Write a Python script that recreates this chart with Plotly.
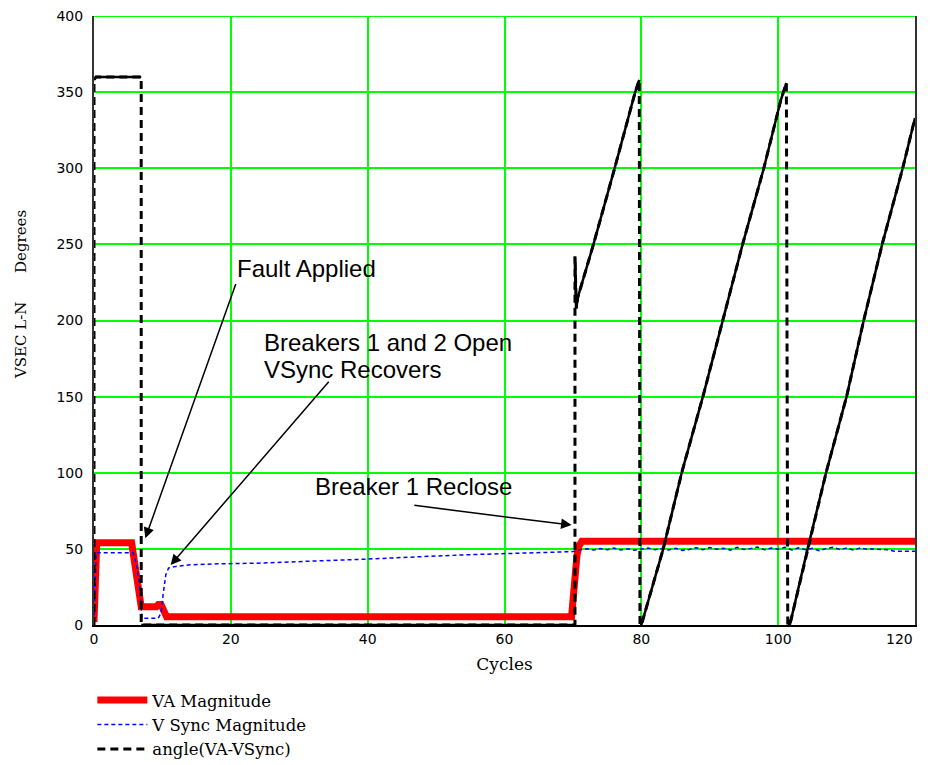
import plotly.graph_objects as go

# ---- data ----
va_x = [0, 0.2, 0.4, 5.5, 5.8, 6.2, 6.5, 6.9, 9.1, 9.4, 9.8, 10.2, 10.6,
        69.8, 70.0, 70.3, 70.6, 70.9, 71.3, 120]
va_y = [2, 30, 54, 54, 45, 28, 20, 12, 12, 13.5, 13.5, 8, 5.5,
        5.5, 18, 32, 46, 52, 55, 55]

vs_x = [0, 0.3, 5.7, 6.2, 6.7, 7.0, 9.4, 9.8, 10.1, 10.5, 10.9, 12, 14, 18, 24,
        30, 35, 40, 45, 50, 55, 60, 65, 68, 70] + list(range(71, 121))
vs_y = [2, 47.5, 47.5, 40, 25, 4.5, 4.5, 8, 20, 33, 37.5, 38.5, 39.5, 40.2, 40.6,
        41.8, 42.5, 43.3, 44.5, 45.3, 46.2, 46.8, 47.4, 47.7, 48.2,
        49.5, 50, 49.2, 50.3, 49.4, 50.5, 49.3, 50, 49.1, 49.8,
        50.6, 49.4, 50.2, 49.3, 50.4, 49, 49.6, 50.8, 49.5, 50.9,
        49.7, 50.4, 49.2, 51, 49.6, 50.3, 51.2, 49.4, 50.5, 49.8,
        51, 49.3, 50.7, 49.5, 50.4, 48.8, 50.2, 51, 49.6, 50.5,
        49.3, 50.6, 49.8, 49.9, 49.6, 49.4, 48.5, 48.6, 48.4, 48.5]

ang_x = [0, 0, 0.3, 6.9, 6.9, 70.3, 70.3, 70.5, 70.7, 73.0, 76.1, 79.1, 79.7, 79.8,
         80.0, 83.2, 85.9, 89.0, 91.9, 94.8, 97.9, 100.4, 101.2, 101.4,
         101.7, 104.3, 107.0, 110.0, 112.5, 115.2, 118.2, 120]
ang_y = [0, 358, 360, 360, 0, 0, 242, 208, 215, 250, 300, 350, 358, 0,
         0, 50, 100, 150, 200, 250, 300, 345, 356, 0,
         0, 50, 100, 150, 200, 250, 300, 333]

x_ticks = [0, 20, 40, 60, 80, 100, 120]
x_tick_text = ["0", "20", "40", "60", "80", "100", ""]   # last label drawn inset below
last_x_label = "120"
y_ticks = [0, 50, 100, 150, 200, 250, 300, 350, 400]

# solid overlay of the angle trace (gaps at the vertical jumps, which stay dashed)
sol_x, sol_y = [], []
for i in range(len(ang_x)):
    if i > 0 and (ang_x[i] == ang_x[i - 1] or abs(ang_y[i] - ang_y[i - 1]) > 150):
        sol_x.append(None); sol_y.append(None)
    sol_x.append(ang_x[i]); sol_y.append(ang_y[i])

fig = go.Figure()
fig.add_trace(go.Scatter(x=va_x, y=va_y, mode="lines", name="VA Magnitude",
                         line=dict(color="#FF0000", width=7)))
fig.add_trace(go.Scatter(x=vs_x, y=vs_y, mode="lines", name="V Sync Magnitude",
                         line=dict(color="#0000FF", width=1.5, dash="4px,3px")))
fig.add_trace(go.Scatter(x=ang_x, y=ang_y, mode="lines", name="angle(VA-VSync)",
                         line=dict(color="#000000", width=3, dash="8px,5px")))
fig.add_trace(go.Scatter(x=sol_x, y=sol_y, mode="lines", showlegend=False,
                         line=dict(color="#000000", width=2.5), hoverinfo="skip"))

ann_font = dict(family="Liberation Sans, Arial", size=24, color="black")
texts = [("Fault Applied", 20.6, 234.3),
         ("Breakers 1 and 2 Open", 24.5, 185.7),
         ("VSync Recovers", 24.5, 168.0),
         ("Breaker 1 Reclose", 32.0, 91.2)]
for t, x, y in texts:
    fig.add_annotation(x=x, y=y, xref="x", yref="y", text=t, showarrow=False,
                       xanchor="left", yanchor="middle", font=ann_font)

arrows = [((7.5, 57), (20.8, 225)),
          ((11.2, 39.4), (34.5, 160.8)),
          ((69.8, 65.6), (46.6, 78.7))]
for (hx, hy), (tx, ty) in arrows:
    fig.add_annotation(x=hx, y=hy, ax=tx, ay=ty, xref="x", yref="y", axref="x", ayref="y",
                       text="", showarrow=True, arrowhead=2, arrowsize=1.4,
                       arrowwidth=1.5, arrowcolor="black", standoff=0)

# last x tick label, kept inside the picture as in the reference
fig.add_annotation(x=x_ticks[-1], y=0, xref="x", yref="paper", text=last_x_label,
                   showarrow=False, xanchor="right", yanchor="top", yshift=-4,
                   font=dict(family="DejaVu Sans", size=14, color="black"))

# y-axis title
fig.add_annotation(x=-0.088, y=0.543, xref="paper", yref="paper",
                   xanchor="center", yanchor="middle",
                   text="VSEC L-N&nbsp;&nbsp;&nbsp;&nbsp;&nbsp;&nbsp;Degrees",
                   textangle=-90, showarrow=False,
                   font=dict(family="DejaVu Serif", size=15, color="black"))

# top frame line in grid colour (the 400 grid line)
fig.add_shape(type="line", xref="paper", yref="y", x0=0, x1=1, y0=400, y1=400,
              line=dict(color="#00FF00", width=2), layer="below")

fig.update_layout(
    width=926, height=757,
    margin=dict(l=86, r=19, t=8, b=140, autoexpand=False),
    paper_bgcolor="white", plot_bgcolor="white",
    showlegend=True,
    legend=dict(x=-0.002, y=-0.095, xanchor="left", yanchor="top",
                font=dict(family="DejaVu Serif", size=16.5, color="black"),
                bgcolor="rgba(0,0,0,0)", itemwidth=50, tracegroupgap=0),
    xaxis=dict(range=[0, 120], tickvals=x_ticks, ticktext=x_tick_text,
               showgrid=True, gridcolor="#00FF00", ticklabeloverflow="allow",
               gridwidth=2, zeroline=False, showline=True, linecolor="black", linewidth=2,
               ticks="", tickfont=dict(family="DejaVu Sans", size=14, color="black"),
               title=dict(text="Cycles", font=dict(family="DejaVu Serif", size=17, color="black"),
                          standoff=12)),
    yaxis=dict(range=[0, 400], tickvals=y_ticks, showgrid=True, gridcolor="#00FF00",
               ticklabeloverflow="allow",
               gridwidth=2, zeroline=False, showline=True, linecolor="#333333", linewidth=2,
               mirror=True, ticks="", ticklabelstandoff=6,
               tickfont=dict(family="DejaVu Sans", size=14, color="black")),
)

fig.write_html("out.html")
